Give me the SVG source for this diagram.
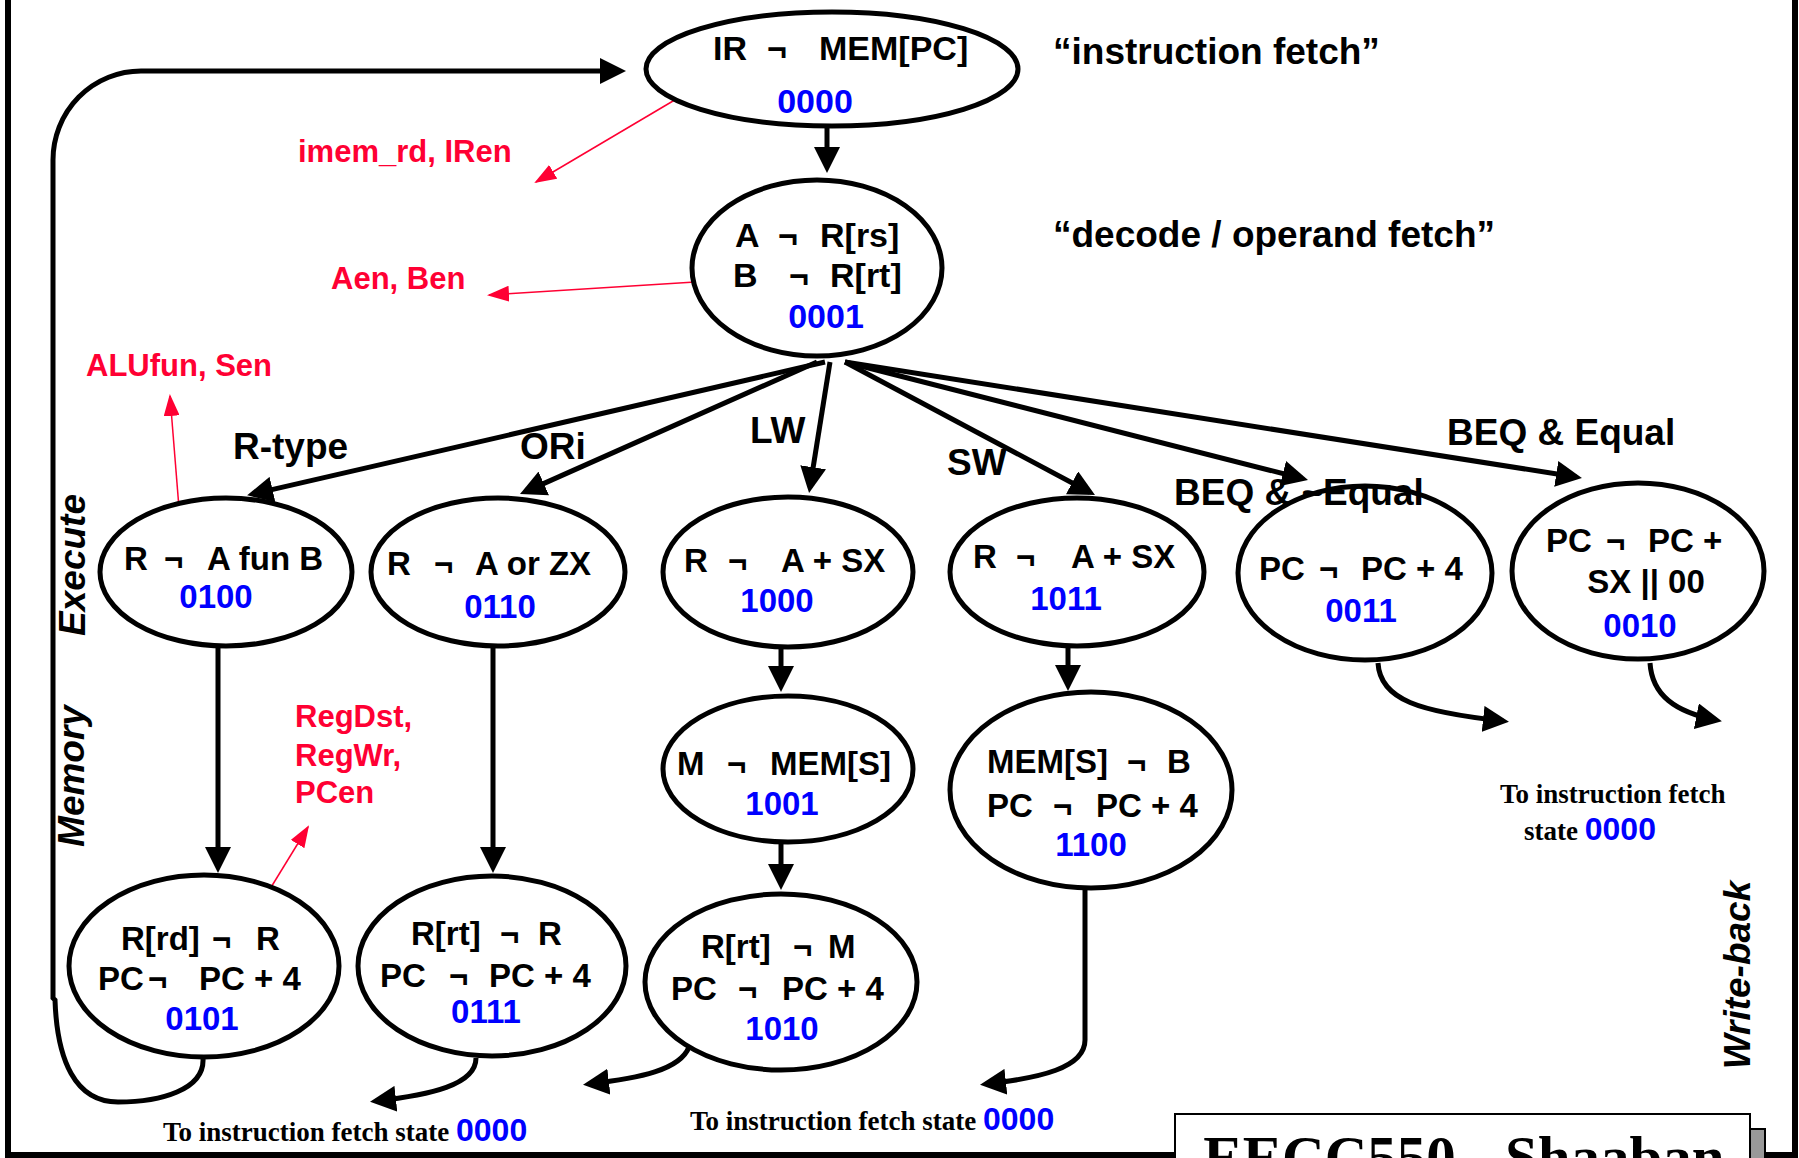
<svg xmlns="http://www.w3.org/2000/svg" width="1799" height="1158" viewBox="0 0 1799 1158" xml:space="preserve">
<style>
.n ellipse{fill:#fff;stroke:#000;stroke-width:5}
text{font-family:"Liberation Sans",Arial,sans-serif;font-weight:bold;font-size:33px;fill:#000}
.big{font-size:34px}
.num{fill:#0000FF;text-anchor:middle}
.red{fill:#FF0033;font-size:31px}
.lbl{font-size:37px}
.ser{font-family:"Liberation Serif","Times New Roman",serif;font-size:27px}
.rot{font-style:italic;font-size:37px;text-anchor:middle}
.c{stroke:#000;stroke-width:5;fill:none}
.cr{stroke:#FF0033;stroke-width:1.5;fill:none}
</style>
<defs>
<marker id="ah" markerUnits="userSpaceOnUse" markerWidth="26" markerHeight="26" refX="20" refY="13" orient="auto" viewBox="0 0 26 26"><path d="M0,0 L26,13 L0,26 Z" fill="#000"/></marker>
<marker id="ar" markerUnits="userSpaceOnUse" markerWidth="22" markerHeight="16" refX="20" refY="8" orient="auto" viewBox="0 0 22 16"><path d="M0,0 L22,8 L0,16 Z" fill="#FF0033"/></marker>
</defs>
<rect x="0" y="0" width="1799" height="1158" fill="#fff"/>
<path d="M8,0 V1155 H1795 V0" fill="none" stroke="#000" stroke-width="6"/>
<g id="connectors">
<line class="c" x1="827" y1="128" x2="827" y2="167" marker-end="url(#ah)"/>
<line class="c" x1="825" y1="362" x2="253" y2="494" marker-end="url(#ah)"/>
<line class="c" x1="817" y1="362" x2="525.5" y2="491.6" marker-end="url(#ah)"/>
<line class="c" x1="830" y1="362" x2="810" y2="487" marker-end="url(#ah)"/>
<line class="c" x1="845" y1="362" x2="1089.7" y2="492.2" marker-end="url(#ah)"/>
<line class="c" x1="845" y1="362" x2="1302.2" y2="478.5" marker-end="url(#ah)"/>
<line class="c" x1="845" y1="362" x2="1576" y2="477" marker-end="url(#ah)"/>
<line class="c" x1="218" y1="648" x2="218" y2="867" marker-end="url(#ah)"/>
<line class="c" x1="493" y1="648" x2="493" y2="867" marker-end="url(#ah)"/>
<line class="c" x1="781" y1="648" x2="781" y2="686" marker-end="url(#ah)"/>
<line class="c" x1="781" y1="843" x2="781" y2="884" marker-end="url(#ah)"/>
<line class="c" x1="1068" y1="648" x2="1068" y2="685" marker-end="url(#ah)"/>
<path class="c" d="M1085,888 V1040 C1085,1068 1040,1078 986,1084" marker-end="url(#ah)"/>
<path class="c" d="M1378,663 C1380,700 1420,712 1503,721" marker-end="url(#ah)"/>
<path class="c" d="M1650,663 C1652,695 1675,712 1716,720" marker-end="url(#ah)"/>
<path class="c" d="M476,1058 C476,1085 430,1095 376,1101" marker-end="url(#ah)"/>
<path class="c" d="M689,1047 C680,1070 640,1078 589,1084" marker-end="url(#ah)"/>
<path class="c" d="M203,1058 C205,1090 160,1102 118,1102 C75,1102 57,1060 55,1000 L53,998 L53,160 A88,89 0 0 1 141,71 L620,71" marker-end="url(#ah)"/>
<line class="cr" x1="695" y1="88" x2="536" y2="182" marker-end="url(#ar)"/>
<line class="cr" x1="711" y1="281" x2="489" y2="295" marker-end="url(#ar)"/>
<line class="cr" x1="181" y1="533" x2="170" y2="396" marker-end="url(#ar)"/>
<line class="cr" x1="262" y1="902" x2="308" y2="827" marker-end="url(#ar)"/>
</g>
<g id="n0000" class="n"><ellipse cx="832" cy="69" rx="186" ry="57"/>
<text class="big" y="60"><tspan x="713">IR</tspan><tspan x="767">¬</tspan><tspan x="819">MEM[PC]</tspan></text>
<text class="big num" x="815" y="113">0000</text></g>
<g id="n0001" class="n"><ellipse cx="817" cy="268" rx="125" ry="88"/>
<text class="big" y="247"><tspan x="735">A</tspan><tspan x="778">¬</tspan><tspan x="820">R[rs]</tspan></text>
<text class="big" y="287"><tspan x="733">B</tspan><tspan x="789">¬</tspan><tspan x="830">R[rt]</tspan></text>
<text class="big num" x="826" y="328">0001</text></g>
<g id="n0100" class="n"><ellipse cx="226" cy="572" rx="126" ry="74"/>
<text y="570"><tspan x="124">R</tspan><tspan x="164">¬</tspan><tspan x="207">A fun B</tspan></text>
<text class="num" x="216" y="608">0100</text></g>
<g id="n0110" class="n"><ellipse cx="498" cy="572" rx="127" ry="74"/>
<text y="575"><tspan x="387">R</tspan><tspan x="434">¬</tspan><tspan x="475">A or ZX</tspan></text>
<text class="num" x="500" y="618">0110</text></g>
<g id="n1000" class="n"><ellipse cx="788" cy="572" rx="125" ry="75"/>
<text y="572"><tspan x="684">R</tspan><tspan x="728">¬</tspan><tspan x="781">A + SX</tspan></text>
<text class="num" x="777" y="612">1000</text></g>
<g id="n1011" class="n"><ellipse cx="1077" cy="572" rx="127" ry="74"/>
<text y="568"><tspan x="973">R</tspan><tspan x="1016">¬</tspan><tspan x="1071">A + SX</tspan></text>
<text class="num" x="1066" y="610">1011</text></g>
<g id="n0011" class="n"><ellipse cx="1365" cy="573" rx="127" ry="87"/>
<text y="580"><tspan x="1259">PC</tspan><tspan x="1319">¬</tspan><tspan x="1361">PC + 4</tspan></text>
<text class="num" x="1361" y="622">0011</text></g>
<g id="n0010" class="n"><ellipse cx="1638" cy="571" rx="126" ry="88"/>
<text y="552"><tspan x="1546">PC</tspan><tspan x="1606">¬</tspan><tspan x="1648">PC +</tspan></text>
<text x="1646" y="593" text-anchor="middle">SX || 00</text>
<text class="num" x="1640" y="637">0010</text></g>
<g id="n1001" class="n"><ellipse cx="788" cy="769" rx="125" ry="73"/>
<text y="775"><tspan x="677">M</tspan><tspan x="727">¬</tspan><tspan x="770">MEM[S]</tspan></text>
<text class="num" x="782" y="815">1001</text></g>
<g id="n1100" class="n"><ellipse cx="1091" cy="790" rx="141" ry="98"/>
<text y="773"><tspan x="987">MEM[S]</tspan><tspan x="1127">¬</tspan><tspan x="1167">B</tspan></text>
<text y="817"><tspan x="987">PC</tspan><tspan x="1053">¬</tspan><tspan x="1096">PC + 4</tspan></text>
<text class="num" x="1091" y="856">1100</text></g>
<g id="n0101" class="n"><ellipse cx="204" cy="966" rx="135" ry="91"/>
<text y="950"><tspan x="121">R[rd]</tspan><tspan x="212">¬</tspan><tspan x="256">R</tspan></text>
<text y="990"><tspan x="98">PC</tspan><tspan x="148">¬</tspan><tspan x="199">PC + 4</tspan></text>
<text class="num" x="202" y="1030">0101</text></g>
<g id="n0111" class="n"><ellipse cx="492" cy="966" rx="134" ry="90"/>
<text y="945"><tspan x="411">R[rt]</tspan><tspan x="500">¬</tspan><tspan x="538">R</tspan></text>
<text y="987"><tspan x="380">PC</tspan><tspan x="449">¬</tspan><tspan x="489">PC + 4</tspan></text>
<text class="num" x="486" y="1023">0111</text></g>
<g id="n1010" class="n"><ellipse cx="781" cy="982" rx="136" ry="88"/>
<text y="958"><tspan x="701">R[rt]</tspan><tspan x="793">¬</tspan><tspan x="828">M</tspan></text>
<text y="1000"><tspan x="671">PC</tspan><tspan x="738">¬</tspan><tspan x="782">PC + 4</tspan></text>
<text class="num" x="782" y="1040">1010</text></g>
<g id="labels">
<text class="lbl" x="1053" y="64">“instruction fetch”</text>
<text class="lbl" x="1053" y="247">“decode / operand fetch”</text>
<text class="red" x="298" y="162">imem_rd, IRen</text>
<text class="red" x="331" y="289">Aen, Ben</text>
<text class="red" x="86" y="376">ALUfun, Sen</text>
<text class="red" x="295" y="727">RegDst,</text>
<text class="red" x="295" y="766">RegWr,</text>
<text class="red" x="295" y="803">PCen</text>
<text class="lbl" x="233" y="459">R-type</text>
<text class="lbl" x="520" y="459">ORi</text>
<text class="lbl" x="750" y="443">LW</text>
<text class="lbl" x="947" y="475">SW</text>
<text class="lbl" x="1174" y="505">BEQ &amp; ~Equal</text>
<text class="lbl" x="1447" y="445">BEQ &amp; Equal</text>
<text class="ser" x="163" y="1141">To instruction fetch state <tspan style="font-family:'Liberation Sans',Arial,sans-serif;font-size:32px;fill:#0000FF">0000</tspan></text>
<text class="ser" x="690" y="1130">To instruction fetch state <tspan style="font-family:'Liberation Sans',Arial,sans-serif;font-size:32px;fill:#0000FF">0000</tspan></text>
<text class="ser" x="1500" y="803">To instruction fetch</text>
<text class="ser" x="1524" y="840">state <tspan style="font-family:'Liberation Sans',Arial,sans-serif;font-size:32px;fill:#0000FF">0000</tspan></text>
<text class="rot" transform="translate(85,565) rotate(-90)">Execute</text>
<text class="rot" transform="translate(84,776) rotate(-90)">Memory</text>
<text class="rot" transform="translate(1750,975) rotate(-90)">Write-back</text>
</g>
<g id="title">
<rect x="1190" y="1129" width="575" height="60" fill="#999" stroke="#000" stroke-width="2"/>
<rect x="1175" y="1114" width="575" height="60" fill="#fff" stroke="#000" stroke-width="2"/>
<text x="1464" y="1177" text-anchor="middle" style="font-family:'Liberation Serif','Times New Roman',serif;font-size:59px">EECC550 - Shaaban</text>
</g>
</svg>
